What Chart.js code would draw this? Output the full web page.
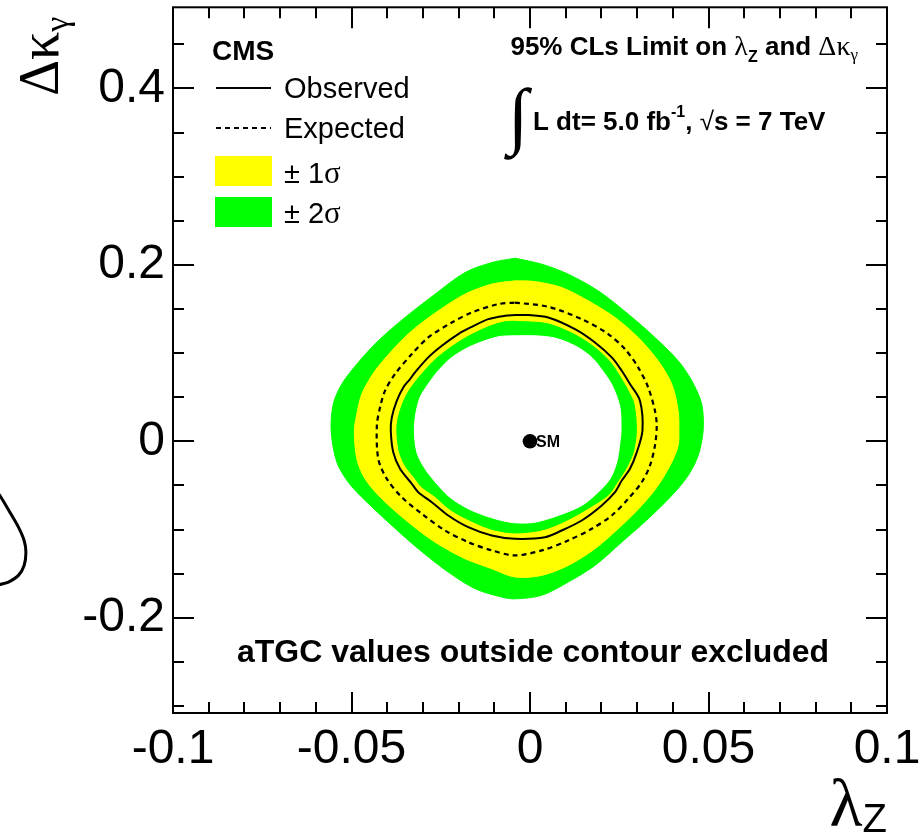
<!DOCTYPE html>
<html>
<head>
<meta charset="utf-8">
<script src="https://cdn.jsdelivr.net/npm/chart.js@4.4.1/dist/chart.umd.min.js"></script>
<style>
  html, body { margin: 0; padding: 0; background: #fff; }
  #wrap { width: 921px; height: 833px; }
</style>
</head>
<body>
<div id="wrap"><canvas id="c" width="921" height="833"></canvas></div>
<script>
// Axis tick labels
const xTickValues = [-0.1, -0.05, 0, 0.05, 0.1];
const yTickValues = [-0.2, 0, 0.2, 0.4];

// 95% CLs contours in the (lambda_Z, delta kappa_gamma) plane, [lambdaZ, dKappaGamma]
const greenOuter = [
  [-0.0042, 0.2076], [0.0033, 0.2008], [0.0107, 0.1895], [0.0191, 0.1706], [0.0275, 0.1442],
  [0.0350, 0.1177], [0.0415, 0.0913], [0.0453, 0.0687], [0.0481, 0.0423], [0.0485, 0.0121],
  [0.0471, -0.0162], [0.0443, -0.0388], [0.0397, -0.0615], [0.0331, -0.0878], [0.0257, -0.1143],
  [0.0182, -0.1407], [0.0107, -0.1596], [0.0033, -0.1746], [-0.0042, -0.1786], [-0.0079, -0.1766],
  [-0.0154, -0.1671], [-0.0229, -0.1483], [-0.0313, -0.1218], [-0.0387, -0.0954], [-0.0471, -0.0634],
  [-0.0509, -0.0464], [-0.0541, -0.0238], [-0.0557, 0.0121], [-0.0551, 0.0423], [-0.0527, 0.0650],
  [-0.0481, 0.0894], [-0.0425, 0.1140], [-0.0350, 0.1404], [-0.0266, 0.1668], [-0.0182, 0.1913],
  [-0.0107, 0.2026]
];
const yellowOuter = [
  [-0.0042, 0.1819], [0.0014, 0.1811], [0.0089, 0.1743], [0.0163, 0.1593], [0.0238, 0.1404],
  [0.0303, 0.1177], [0.0359, 0.0913], [0.0397, 0.0650], [0.0415, 0.0347], [0.0417, 0.0121],
  [0.0415, -0.0049], [0.0397, -0.0238], [0.0359, -0.0501], [0.0313, -0.0728], [0.0257, -0.0954],
  [0.0182, -0.1218], [0.0107, -0.1407], [0.0033, -0.1520], [-0.0042, -0.1539], [-0.0107, -0.1444],
  [-0.0182, -0.1331], [-0.0266, -0.1143], [-0.0341, -0.0917], [-0.0415, -0.0652], [-0.0462, -0.0426],
  [-0.0485, -0.0199], [-0.0492, 0.0121], [-0.0485, 0.0310], [-0.0471, 0.0537], [-0.0434, 0.0800],
  [-0.0387, 0.1027], [-0.0331, 0.1253], [-0.0257, 0.1479], [-0.0182, 0.1668], [-0.0107, 0.1782]
];
const yellowInner = [
  [-0.0042, 0.1360], [0.0050, 0.1332], [0.0126, 0.1208], [0.0182, 0.1061], [0.0224, 0.0903],
  [0.0249, 0.0755], [0.0272, 0.0597], [0.0291, 0.0427], [0.0298, 0.0121], [0.0289, -0.0128],
  [0.0269, -0.0309], [0.0244, -0.0467], [0.0221, -0.0603], [0.0185, -0.0705], [0.0134, -0.0829],
  [0.0078, -0.0942], [0.0028, -0.1010], [-0.0042, -0.1039], [-0.0106, -0.0999], [-0.0168, -0.0897],
  [-0.0224, -0.0773], [-0.0266, -0.0625], [-0.0305, -0.0512], [-0.0322, -0.0422], [-0.0350, -0.0275],
  [-0.0367, -0.0105], [-0.0373, 0.0121], [-0.0370, 0.0257], [-0.0356, 0.0438], [-0.0339, 0.0574],
  [-0.0319, 0.0687], [-0.0305, 0.0755], [-0.0272, 0.0903], [-0.0235, 0.1027], [-0.0190, 0.1151],
  [-0.0154, 0.1230], [-0.0109, 0.1310], [-0.0070, 0.1355]
];
const greenInner = [
  [-0.0042, 0.1196], [0.0014, 0.1196], [0.0070, 0.1170], [0.0126, 0.1083], [0.0173, 0.0951],
  [0.0210, 0.0763], [0.0233, 0.0611], [0.0252, 0.0385], [0.0255, 0.0121], [0.0252, -0.0011],
  [0.0243, -0.0238], [0.0224, -0.0426], [0.0191, -0.0577], [0.0145, -0.0728], [0.0079, -0.0841],
  [0.0014, -0.0917], [-0.0042, -0.0924], [-0.0098, -0.0878], [-0.0163, -0.0784], [-0.0219, -0.0652],
  [-0.0257, -0.0501], [-0.0294, -0.0312], [-0.0317, -0.0125], [-0.0324, 0.0121], [-0.0320, 0.0310],
  [-0.0308, 0.0498], [-0.0285, 0.0650], [-0.0257, 0.0800], [-0.0219, 0.0951], [-0.0163, 0.1083],
  [-0.0089, 0.1185]
];
const expected = [
  [-0.0042, 0.1573], [0.0051, 0.1525], [0.0145, 0.1385], [0.0219, 0.1216], [0.0266, 0.1046],
  [0.0303, 0.0838], [0.0331, 0.0611], [0.0350, 0.0347], [0.0355, 0.0178], [0.0350, -0.0049],
  [0.0336, -0.0275], [0.0313, -0.0464], [0.0275, -0.0652], [0.0229, -0.0841], [0.0173, -0.0992],
  [0.0107, -0.1124], [0.0033, -0.1237], [-0.0042, -0.1294], [-0.0107, -0.1237], [-0.0173, -0.1143],
  [-0.0238, -0.1011], [-0.0303, -0.0822], [-0.0359, -0.0634], [-0.0401, -0.0426], [-0.0425, -0.0199],
  [-0.0429, 0.0178], [-0.0420, 0.0385], [-0.0406, 0.0574], [-0.0378, 0.0763], [-0.0331, 0.0989],
  [-0.0285, 0.1177], [-0.0219, 0.1347], [-0.0163, 0.1460], [-0.0089, 0.1555]
];
const observed = [
  [-0.0042, 0.1431], [-0.0005, 0.1431], [0.0051, 0.1404], [0.0126, 0.1272], [0.0182, 0.1121],
  [0.0229, 0.0951], [0.0257, 0.0800], [0.0280, 0.0650], [0.0308, 0.0461], [0.0315, 0.0121],
  [0.0299, -0.0125], [0.0280, -0.0312], [0.0257, -0.0445], [0.0238, -0.0577], [0.0201, -0.0728],
  [0.0145, -0.0898], [0.0089, -0.1011], [0.0042, -0.1087], [-0.0042, -0.1105], [-0.0107, -0.1067],
  [-0.0173, -0.0973], [-0.0229, -0.0841], [-0.0275, -0.0690], [-0.0313, -0.0577], [-0.0331, -0.0482],
  [-0.0364, -0.0312], [-0.0383, -0.0125], [-0.0390, 0.0121], [-0.0387, 0.0272], [-0.0373, 0.0461],
  [-0.0355, 0.0611], [-0.0336, 0.0706], [-0.0322, 0.0781], [-0.0285, 0.0951], [-0.0247, 0.1083],
  [-0.0201, 0.1216], [-0.0163, 0.1298], [-0.0117, 0.1385], [-0.0070, 0.1423]
];
// second piece of the observed contour, far outside the displayed lambda_Z range
const observedIsland = [
  [-0.1501, -0.0535], [-0.1485, -0.0615], [-0.1457, -0.0804], [-0.1433, -0.0973], [-0.1417, -0.1124],
  [-0.1412, -0.1257], [-0.1417, -0.1407], [-0.1433, -0.1520], [-0.1461, -0.1596], [-0.1485, -0.1625],
  [-0.1507, -0.1656]
];
const smPoint = [[0, 0]];

const SANS = '"Liberation Sans", Arial, Helvetica, sans-serif';
const SERIF = '"Liberation Serif", "Times New Roman", serif';

const toXY = pts => pts.map(p => ({ x: p[0], y: p[1] }));
const closed = pts => toXY(pts.concat([pts[0]]));
const fmt = v => (Math.abs(v) < 1e-9 ? '0' : String(+v.toFixed(2)));

// draw a run of text pieces with individual fonts and vertical shifts
function rich(ctx, x, y, parts, align) {
  let w = 0;
  parts.forEach(p => { ctx.font = p.f; p.w = ctx.measureText(p.t).width; w += p.w + (p.gap || 0); });
  let cx = align === 'right' ? x - w : x;
  ctx.textAlign = 'left';
  ctx.textBaseline = 'alphabetic';
  parts.forEach(p => {
    ctx.font = p.f;
    ctx.fillText(p.t, cx, y + (p.dy || 0));
    cx += p.w + (p.gap || 0);
  });
  return w;
}

const framePlugin = {
  id: 'frameAndText',
  afterDraw(chart) {
    const { ctx, chartArea: a, scales: { x, y } } = chart;
    ctx.save();
    ctx.strokeStyle = '#000';
    ctx.fillStyle = '#000';

    // frame
    ctx.lineWidth = 2;
    ctx.strokeRect(a.left, a.top, a.right - a.left, a.bottom - a.top);

    // inward ticks on all four sides
    ctx.lineWidth = 2;
    ctx.beginPath();
    for (let i = -10; i <= 10; i++) {
      const px = Math.round(x.getPixelForValue(i / 100));
      const L = i % 5 === 0 ? 21 : 11;
      ctx.moveTo(px, a.bottom); ctx.lineTo(px, a.bottom - L);
      ctx.moveTo(px, a.top); ctx.lineTo(px, a.top + L);
    }
    for (let i = -7; i <= 10; i++) {
      const v = i * 0.05;
      if (v < y.min || v > y.max) continue;
      const py = Math.round(y.getPixelForValue(v));
      const L = i % 4 === 0 ? 21 : 11;
      ctx.moveTo(a.left, py); ctx.lineTo(a.left + L, py);
      ctx.moveTo(a.right, py); ctx.lineTo(a.right - L, py);
    }
    ctx.stroke();

    // axis titles
    ctx.save();
    ctx.translate(58, 96);
    ctx.rotate(-Math.PI / 2);
    rich(ctx, 0, 0, [
      { t: '\u0394\u03BA', f: '56px ' + SERIF },
      { t: '\u03B3', f: '34px ' + SERIF, dy: 10 }
    ]);
    ctx.restore();
    rich(ctx, a.right, 826, [
      { t: '\u03BB', f: '68px ' + SERIF },
      { t: 'Z', f: '40px ' + SANS, dy: 6 }
    ], 'right');

    // experiment label and legend
    ctx.font = 'bold 28px ' + SANS;
    ctx.fillText('CMS', 212, 60);

    ctx.lineWidth = 2;
    ctx.beginPath(); ctx.moveTo(216, 88); ctx.lineTo(271, 88); ctx.stroke();
    ctx.setLineDash([5, 4]);
    ctx.beginPath(); ctx.moveTo(216, 128); ctx.lineTo(271, 128); ctx.stroke();
    ctx.setLineDash([]);
    ctx.fillStyle = '#ffff00'; ctx.fillRect(215, 156, 57, 30);
    ctx.fillStyle = '#00ff00'; ctx.fillRect(215, 197, 57, 30);
    ctx.fillStyle = '#000';
    ctx.font = '29px ' + SANS;
    ctx.fillText('Observed', 284, 98);
    ctx.fillText('Expected', 284, 138);
    rich(ctx, 284, 183, [{ t: '\u00B1 1', f: '29px ' + SANS }, { t: '\u03C3', f: '31px ' + SERIF }]);
    rich(ctx, 284, 223, [{ t: '\u00B1 2', f: '29px ' + SANS }, { t: '\u03C3', f: '31px ' + SERIF }]);

    // top-right annotations
    rich(ctx, 858, 55, [
      { t: '95% CLs Limit on ', f: 'bold 26px ' + SANS },
      { t: '\u03BB', f: '28px ' + SERIF },
      { t: 'Z', f: 'bold 16px ' + SANS, dy: 7 },
      { t: ' and ', f: 'bold 26px ' + SANS },
      { t: '\u0394\u03BA', f: '28px ' + SERIF },
      { t: '\u03B3', f: '17px ' + SERIF, dy: 5 }
    ], 'right');
    ctx.font = '74px ' + SERIF;
    ctx.fillText('\u222B', 508, 140);
    rich(ctx, 533, 130, [
      { t: 'L dt= 5.0 fb', f: 'bold 26px ' + SANS },
      { t: '-1', f: 'bold 16px ' + SANS, dy: -13 },
      { t: ', ', f: 'bold 26px ' + SANS },
      { t: '\u221A', f: '26px ' + SANS },
      { t: 's = 7 TeV', f: 'bold 26px ' + SANS }
    ]);

    ctx.font = 'bold 32px ' + SANS;
    ctx.fillText('aTGC values outside contour excluded', 237, 662);

    ctx.font = 'bold 16px ' + SANS;
    ctx.fillText('SM', 536, 447);
    ctx.restore();
  }
};

const fillBand = (label, pts, color, order) => ({
  label, data: closed(pts), fill: 'shape', backgroundColor: color,
  borderColor: color, borderWidth: 1, pointRadius: 0, tension: 0.3, order
});

new Chart(document.getElementById('c'), {
  type: 'line',
  data: {
    datasets: [
      fillBand('\u00B1 2\u03C3 (outer)', greenOuter, '#00ff00', 10),
      fillBand('\u00B1 1\u03C3 (outer)', yellowOuter, '#ffff00', 9),
      fillBand('\u00B1 1\u03C3 (inner)', yellowInner, '#00ff00', 8),
      fillBand('\u00B1 2\u03C3 (inner)', greenInner, '#ffffff', 7),
      { label: 'Expected', data: closed(expected), fill: false, borderColor: '#000',
        borderWidth: 2.2, borderDash: [5, 4], pointRadius: 0, tension: 0.3, order: 6 },
      { label: 'Observed', data: closed(observed), fill: false, borderColor: '#000',
        borderWidth: 2, pointRadius: 0, tension: 0.3, order: 5 },
      { label: 'Observed', data: toXY(observedIsland), fill: false, borderColor: '#000',
        borderWidth: 3, pointRadius: 0, tension: 0.3, clip: false, order: 4 },
      { label: 'SM', data: toXY(smPoint), showLine: false, pointRadius: 7.3,
        pointBackgroundColor: '#000', pointBorderWidth: 0, order: 3 }
    ]
  },
  options: {
    responsive: false,
    animation: false,
    events: [],
    layout: { padding: { left: 0, top: 6, right: 34, bottom: 0 } },
    elements: { line: { capBezierPoints: false } },
    plugins: { legend: { display: false }, tooltip: { enabled: false } },
    scales: {
      x: {
        type: 'linear', min: -0.1, max: 0.1,
        grid: { display: false }, border: { display: false },
        afterBuildTicks: s => { s.ticks = xTickValues.map(v => ({ value: v })); },
        afterFit: s => { s.height = 120; s.paddingLeft = 0; s.paddingRight = 0; },
        ticks: { color: '#000', font: { family: SANS, size: 48 }, padding: 0,
                 maxRotation: 0, autoSkip: false, callback: v => fmt(v) }
      },
      y: {
        type: 'linear', min: -0.308, max: 0.492,
        grid: { display: false }, border: { display: false },
        afterBuildTicks: s => { s.ticks = yTickValues.map(v => ({ value: v })); },
        afterFit: s => { s.width = 173; s.paddingTop = 0; s.paddingBottom = 0; },
        ticks: { color: '#000', font: { family: SANS, size: 48 }, padding: 0,
                 autoSkip: false, callback: v => fmt(v) }
      }
    }
  },
  plugins: [framePlugin]
});
</script>
</body>
</html>
